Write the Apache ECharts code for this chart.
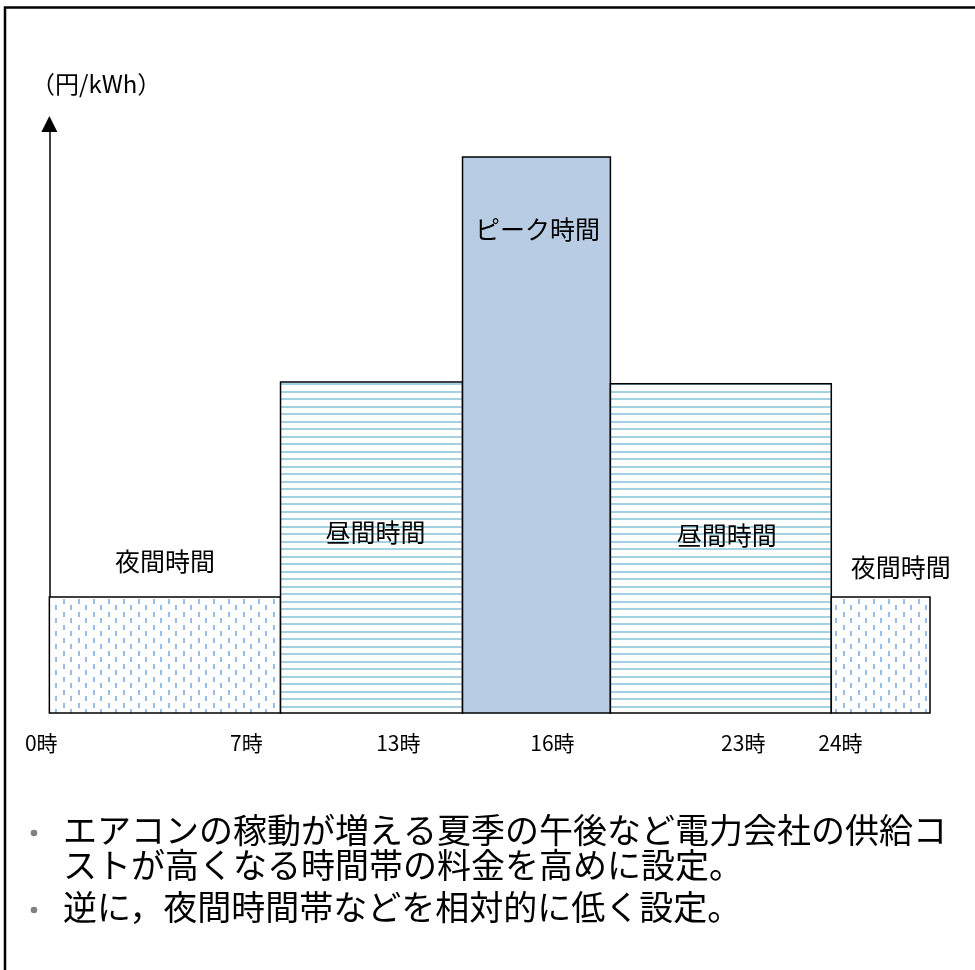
<!DOCTYPE html>
<html>
<head>
<meta charset="utf-8">
<script src="https://cdn.jsdelivr.net/npm/echarts@6/dist/echarts.min.js"></script>
<style>
  html, body { margin: 0; padding: 0; background: #fff; }
  #main { width: 975px; height: 970px; }
</style>
</head>
<body>
<div id="main"></div>
<script>
// Time-of-use tariff bands on a schematic time scale (price in relative units)
const bandNames = ['夜間時間', '昼間時間', 'ピーク時間', '昼間時間', '夜間時間'];
const bandKind  = ['night', 'day', 'peak', 'day', 'night'];
const bandStart = [0, 6.3, 11.26, 15.29, 21.31];
const bandEnd   = [6.3, 11.26, 15.29, 21.31, 24];
const bandPrice = [19.7, 56.2, 94.4, 55.9, 19.7];

// Hour labels along the time axis
const hourTickAt   = [-0.22, 5.37, 9.51, 13.71, 18.91, 21.56];
const hourTickText = ['0時', '7時', '13時', '16時', '23時', '24時'];

const unitText = '（円/kWh）';
const noteLines = [
  ['エアコンの稼動が増える夏季の午後など電力会社の供給コ', 'ストが高くなる時間帯の料金を高めに設定。'],
  ['逆に，夜間時間帯などを相対的に低く設定。']
];

const FONT = '"Noto Sans CJK JP", "Noto Sans CJK SC", sans-serif';

// band label placement: [dx from band centre, dy from band top]
const labelShift = [[0, -35], [4, 151], [1, 73], [6, 152], [20, -29]];

function stripeCanvas() {
  const c = document.createElement('canvas');
  c.width = 16; c.height = 15;
  const g = c.getContext('2d');
  g.fillStyle = '#ffffff';
  g.fillRect(0, 0, 16, 15);
  g.fillStyle = '#a3d3e2';
  g.fillRect(0, 1, 16, 2);
  g.fillRect(0, 8, 16, 2);
  return c;
}
function dashCanvas() {
  const c = document.createElement('canvas');
  c.width = 15; c.height = 13;
  const g = c.getContext('2d');
  g.fillStyle = '#ffffff';
  g.fillRect(0, 0, 15, 13);
  g.fillStyle = '#98bde9';
  g.fillRect(3, 1, 2, 5);
  g.fillRect(10, 7, 2, 5);
  return c;
}
const fills = {
  night: { image: dashCanvas(), repeat: 'repeat' },
  day: { image: stripeCanvas(), repeat: 'repeat' },
  peak: '#b8cce4'
};

const chart = echarts.init(document.getElementById('main'), null, { renderer: 'canvas' });

const bandData = bandStart.map((s, i) => [s, bandEnd[i], bandPrice[i]]);

chart.setOption({
  animation: false,
  backgroundColor: '#ffffff',
  grid: { left: 20, right: 45, top: 124, bottom: 257 },
  xAxis: {
    type: 'value',
    min: -0.8,
    max: 24,
    axisLine: { show: false },
    axisTick: { show: false },
    splitLine: { show: false },
    axisLabel: {
      customValues: hourTickAt,
      formatter: function (v) {
        let best = 0;
        hourTickAt.forEach((t, i) => { if (Math.abs(t - v) < Math.abs(hourTickAt[best] - v)) best = i; });
        return hourTickText[best];
      },
      color: '#000',
      fontSize: 21,
      fontFamily: FONT,
      margin: 20
    }
  },
  yAxis: {
    type: 'value',
    min: 0,
    max: 100,
    axisLine: {
      show: true,
      onZero: true,
      symbol: ['none', 'triangle'],
      symbolSize: [16, 16],
      lineStyle: { color: '#000', width: 1.5 }
    },
    axisTick: { show: false },
    axisLabel: { show: false },
    splitLine: { show: false }
  },
  series: [{
    type: 'custom',
    data: bandData,
    encode: { x: [0, 1], y: 2 },
    renderItem: function (params, api) {
      const i = params.dataIndex;
      const p0 = api.coord([api.value(0), 0]);
      const p1 = api.coord([api.value(1), api.value(2)]);
      const x = p0[0], y = p1[1], w = p1[0] - p0[0], h = p0[1] - p1[1];
      const sh = labelShift[i];
      return {
        type: 'group',
        children: [
          {
            type: 'rect',
            shape: { x: x, y: y, width: w, height: h },
            style: { fill: fills[bandKind[i]], stroke: '#000', lineWidth: 1.5 }
          },
          {
            type: 'text',
            x: x + w / 2 + sh[0],
            y: y + sh[1],
            style: {
              text: bandNames[i],
              font: '25px ' + FONT,
              fill: '#000',
              align: 'center',
              verticalAlign: 'middle'
            }
          }
        ]
      };
    }
  }],
  graphic: [
    {
      type: 'rect',
      silent: true,
      z: 100,
      shape: { x: 5, y: 7.5, width: 1100, height: 1100 },
      style: { fill: 'none', stroke: '#000', lineWidth: 2.5 }
    },
    {
      type: 'text',
      x: 31,
      y: 84,
      style: { text: unitText, font: '24px ' + FONT, fill: '#000', verticalAlign: 'middle' }
    },
    {
      type: 'group',
      children: (function () {
        const out = [];
        const lineY = [[830, 865], [907]];
        noteLines.forEach((lines, b) => {
          out.push({
            type: 'circle',
            shape: { cx: 34, cy: lineY[b][0] + 3, r: 3.3 },
            style: { fill: '#808080' }
          });
          lines.forEach((t, k) => {
            out.push({
              type: 'text',
              x: 63,
              y: lineY[b][k],
              style: { text: t, font: '34px ' + FONT, fill: '#000', verticalAlign: 'middle' }
            });
          });
        });
        return out;
      })()
    }
  ]
});
</script>
</body>
</html>
